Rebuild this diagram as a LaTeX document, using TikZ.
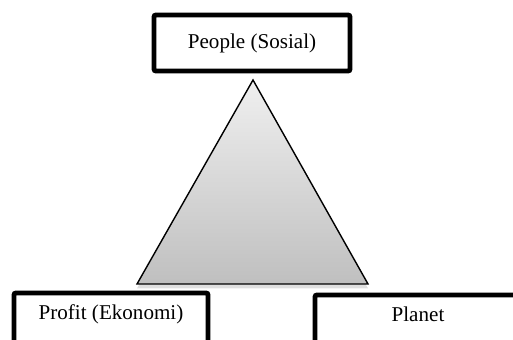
\documentclass[tikz,border=0pt]{standalone}
\usepackage{fontspec}
\setmainfont{Liberation Serif}
\usetikzlibrary{shadows}

\begin{document}
\begin{tikzpicture}[x=0.02cm,y=-0.02cm]
  \useasboundingbox (0,0) rectangle (513,340);

  \tikzstyle{pillar} = [
    % The shape:
    rectangle, rounded corners=0.4mm,
    % The border:
    line width=2.8pt,
    draw=black,
    % The filling:
    fill=white,
    % Font:
    font=\fontsize{12}{14}\selectfont
  ];
  \tikzstyle{footPillar} = [
    pillar,
    % Lift the text, the box runs past the page:
    text depth=8pt
  ];
  \tikzstyle{balance} = [
    % The border:
    draw=black,
    line width=0.8pt,
    line join=miter,
    % The filling:
    top color=gray!12,
    bottom color=gray!50,
    % The shadow:
    drop shadow={shadow xshift=0pt, shadow yshift=-2.5pt, opacity=0.25}
  ];

  \coordinate (apex) at (253,80);
  \coordinate (baseLeft) at (137,284);
  \coordinate (baseRight) at (368,284);

  \path [balance] (apex) -- (baseRight) -- (baseLeft) -- cycle;

  \node [pillar, minimum width=3.92cm, minimum height=1.12cm] (people) at (252,43) {People (Sosial)};
  \node [footPillar, minimum width=3.88cm, minimum height=1.04cm] (profit) at (111,319) {Profit (Ekonomi)};
  \node [footPillar, minimum width=4.12cm, minimum height=1.04cm] (planet) at (418,321) {Planet};
\end{tikzpicture}
\end{document}
